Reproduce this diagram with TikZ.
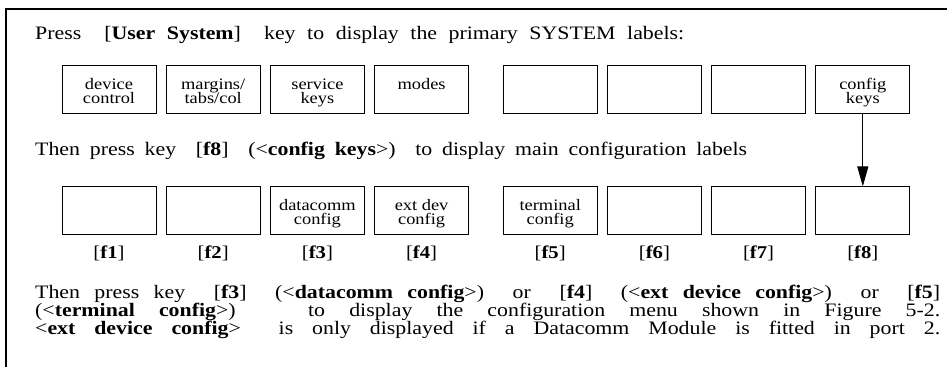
\documentclass[tikz,border=0pt]{standalone}
\usepackage{fontspec}
\setmainfont{Liberation Serif}[FakeStretch=1.15]
\usetikzlibrary{arrows.meta,positioning}

% text inside a key label, first baseline fixed from the top
\newcommand{\keytxt}[1]{\parbox[c][48pt][t]{94pt}{\centering\fontsize{16}{14}\selectfont\lineskiplimit=-20pt\rule{0pt}{24pt}#1}}

\begin{document}
\begin{tikzpicture}[x=1pt, y=-1pt,
    keybox/.style={draw, line width=0.8pt, inner sep=0pt, minimum width=94pt, minimum height=48pt},
    txtline/.style={anchor=base west, inner sep=0pt, font=\fontsize{19}{19}\selectfont},
    fkey/.style={anchor=base, inner sep=0pt, font=\fontsize{18}{18}\selectfont},
    frame/.style={line width=1.8pt},
    arr/.style={-{Triangle[length=20pt, width=11pt]}, line width=1pt}
]
\useasboundingbox (0,0) rectangle (947,367);
\draw[frame] (6,367) -- (6,9) -- (947,9);

\node[txtline] (title) at (35,39) {\makebox[649pt][s]{Press\ \ [\textbf{User System}]\ \ key to display the primary SYSTEM labels:}};

% primary SYSTEM labels
\node[keybox] (sys1) at (109,89) {\keytxt{device\\control}};
\node[keybox, right=9.4pt of sys1] (sys2) {\keytxt{margins/\\tabs/col}};
\node[keybox, right=9.4pt of sys2] (sys3) {\keytxt{service\\keys}};
\node[keybox, right=9.4pt of sys3] (sys4) {\keytxt{modes}};
\node[keybox, right=33.8pt of sys4] (sys5) {};
\node[keybox, right=9.4pt of sys5] (sys6) {};
\node[keybox, right=9.4pt of sys6] (sys7) {};
\node[keybox, right=9.4pt of sys7] (sys8) {\keytxt{config\\keys}};

\node[txtline] (step2) at (35,155) {\makebox[712pt][s]{Then press key\ \ [\textbf{f8}]\ \ (<\textbf{config keys}>)\ \ to display main configuration labels}};

% main configuration labels
\node[keybox, below=73pt of sys1] (cfg1) {};
\node[keybox, right=9.4pt of cfg1] (cfg2) {};
\node[keybox, right=9.4pt of cfg2] (cfg3) {\keytxt{datacomm\\config}};
\node[keybox, right=9.4pt of cfg3] (cfg4) {\keytxt{ext dev\\config}};
\node[keybox, right=33.8pt of cfg4] (cfg5) {\keytxt{terminal\\config}};
\node[keybox, right=9.4pt of cfg5] (cfg6) {};
\node[keybox, right=9.4pt of cfg6] (cfg7) {};
\node[keybox, right=9.4pt of cfg7] (cfg8) {};

\foreach \i in {1,...,8}
  \node[fkey] (fk\i) at ([yshift=-23pt]cfg\i.south) {[\textbf{f\i}]};

\draw[arr] (sys8.south) -- (cfg8.north);

\node[txtline] (note1) at (35,298) {\makebox[905pt][s]{Then press key\ \ [\textbf{f3}]\ \ (<\textbf{datacomm config}>)\ \ or\ \ [\textbf{f4}]\ \ (<\textbf{ext device config}>)\ \ or\ \ [\textbf{f5}]}};
\node[txtline] (note2) at (35,316) {\makebox[905pt][s]{(<\textbf{terminal config}>)\ \ \ to display the configuration menu shown in Figure 5-2.}};
\node[txtline] (note3) at (35,334) {\makebox[905pt][s]{<\textbf{ext device config}>\ \ is only displayed if a Datacomm Module is fitted in port 2.}};
\end{tikzpicture}
\end{document}
